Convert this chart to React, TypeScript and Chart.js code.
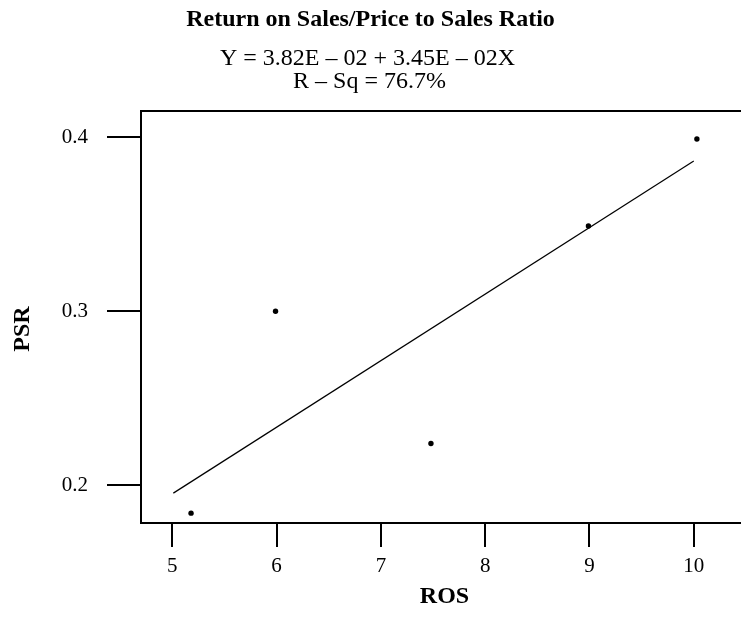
import React, { useEffect, useRef } from "react";
import { Chart, registerables } from "chart.js";

Chart.register(...registerables);

// Observations: return on sales (ROS) vs price-to-sales ratio (PSR)
const rosValues = [5.18, 5.99, 7.48, 8.99, 10.03];
const psrValues = [0.184, 0.3, 0.224, 0.349, 0.399];

// Fitted regression line end points
const fitRos = [5.01, 10.0];
const fitPsr = [0.1955, 0.3864];

const xTickValues = [5, 6, 7, 8, 9, 10];
const yTickValues = [0.2, 0.3, 0.4];

const titleText = "Return on Sales/Price to Sales Ratio";
const equationLines = ["Y = 3.82E – 02 + 3.45E – 02X", "R – Sq = 76.7%"];
const xTitle = "ROS";
const yTitle = "PSR";

const SERIF = "'Liberation Serif', 'Times New Roman', serif";

const framePlugin = {
  id: "frameAndTexts",
  afterDraw(chart: any) {
    const { ctx, chartArea } = chart;
    ctx.save();
    // plot frame
    ctx.strokeStyle = "#000";
    ctx.lineWidth = 2;
    ctx.strokeRect(
      chartArea.left,
      chartArea.top,
      chartArea.right - chartArea.left,
      chartArea.bottom - chartArea.top
    );

    ctx.fillStyle = "#000";
    ctx.textAlign = "center";
    ctx.textBaseline = "alphabetic";

    ctx.font = `bold 24px ${SERIF}`;
    ctx.fillText(titleText, 370.5, 26);

    ctx.font = `24px ${SERIF}`;
    ctx.fillText(equationLines[0], 367.5, 65);
    ctx.fillText(equationLines[1], 369.5, 88);

    ctx.font = `bold 24px ${SERIF}`;
    ctx.textBaseline = "middle";
    ctx.fillText(xTitle, (chartArea.left + chartArea.right) / 2, 597);

    ctx.translate(23, 329);
    ctx.rotate(-Math.PI / 2);
    ctx.fillText(yTitle, 0, 0);
    ctx.restore();
  },
};

export default function App() {
  const canvasRef = useRef<HTMLCanvasElement | null>(null);

  useEffect(() => {
    if (!canvasRef.current) return;
    const chart = new Chart(canvasRef.current, {
      type: "scatter",
      data: {
        datasets: [
          {
            label: "Fit",
            type: "line",
            data: fitRos.map((x, i) => ({ x, y: fitPsr[i] })),
            borderColor: "#000",
            borderWidth: 1.2,
            pointRadius: 0,
            fill: false,
            order: 2,
          },
          {
            label: "PSR",
            data: rosValues.map((x, i) => ({ x, y: psrValues[i] })),
            backgroundColor: "#000",
            borderColor: "#000",
            pointRadius: 2.7,
            pointBorderWidth: 0,
            order: 1,
          },
        ],
      },
      options: {
        responsive: false,
        animation: false,
        layout: { padding: { top: 111, right: 12, bottom: 0, left: 0 } },
        plugins: {
          legend: { display: false },
          tooltip: { enabled: false },
          title: { display: false },
        },
        scales: {
          x: {
            type: "linear",
            min: 4.7,
            max: 10.52,
            afterBuildTicks: (scale: any) => {
              scale.ticks = xTickValues.map((v) => ({ value: v }));
            },
            afterFit: (scale: any) => {
              scale.height = 95;
            },
            border: { display: false },
            grid: {
              drawOnChartArea: false,
              drawTicks: true,
              tickLength: 24,
              lineWidth: 2,
              color: "#000",
            },
            ticks: {
              color: "#000",
              font: { family: SERIF, size: 21 },
              padding: 7,
              maxRotation: 0,
              callback: (v: any) => String(v),
            },
          },
          y: {
            type: "linear",
            min: 0.17833,
            max: 0.41511,
            afterBuildTicks: (scale: any) => {
              scale.ticks = yTickValues.map((v) => ({ value: v }));
            },
            afterFit: (scale: any) => {
              scale.width = 141;
            },
            border: { display: false },
            grid: {
              drawOnChartArea: false,
              drawTicks: true,
              tickLength: 34,
              lineWidth: 2,
              color: "#000",
            },
            ticks: {
              color: "#000",
              font: { family: SERIF, size: 21 },
              padding: 19,
              callback: (v: any) => Number(v).toFixed(1),
            },
          },
        },
      },
      plugins: [framePlugin],
    });
    return () => chart.destroy();
  }, []);

  return (
    <div
      style={{
        position: "absolute",
        left: 0,
        top: 0,
        width: 741,
        height: 618,
        overflow: "hidden",
        background: "#fff",
      }}
    >
      <canvas ref={canvasRef} width={760} height={618} style={{ display: "block" }} />
    </div>
  );
}
